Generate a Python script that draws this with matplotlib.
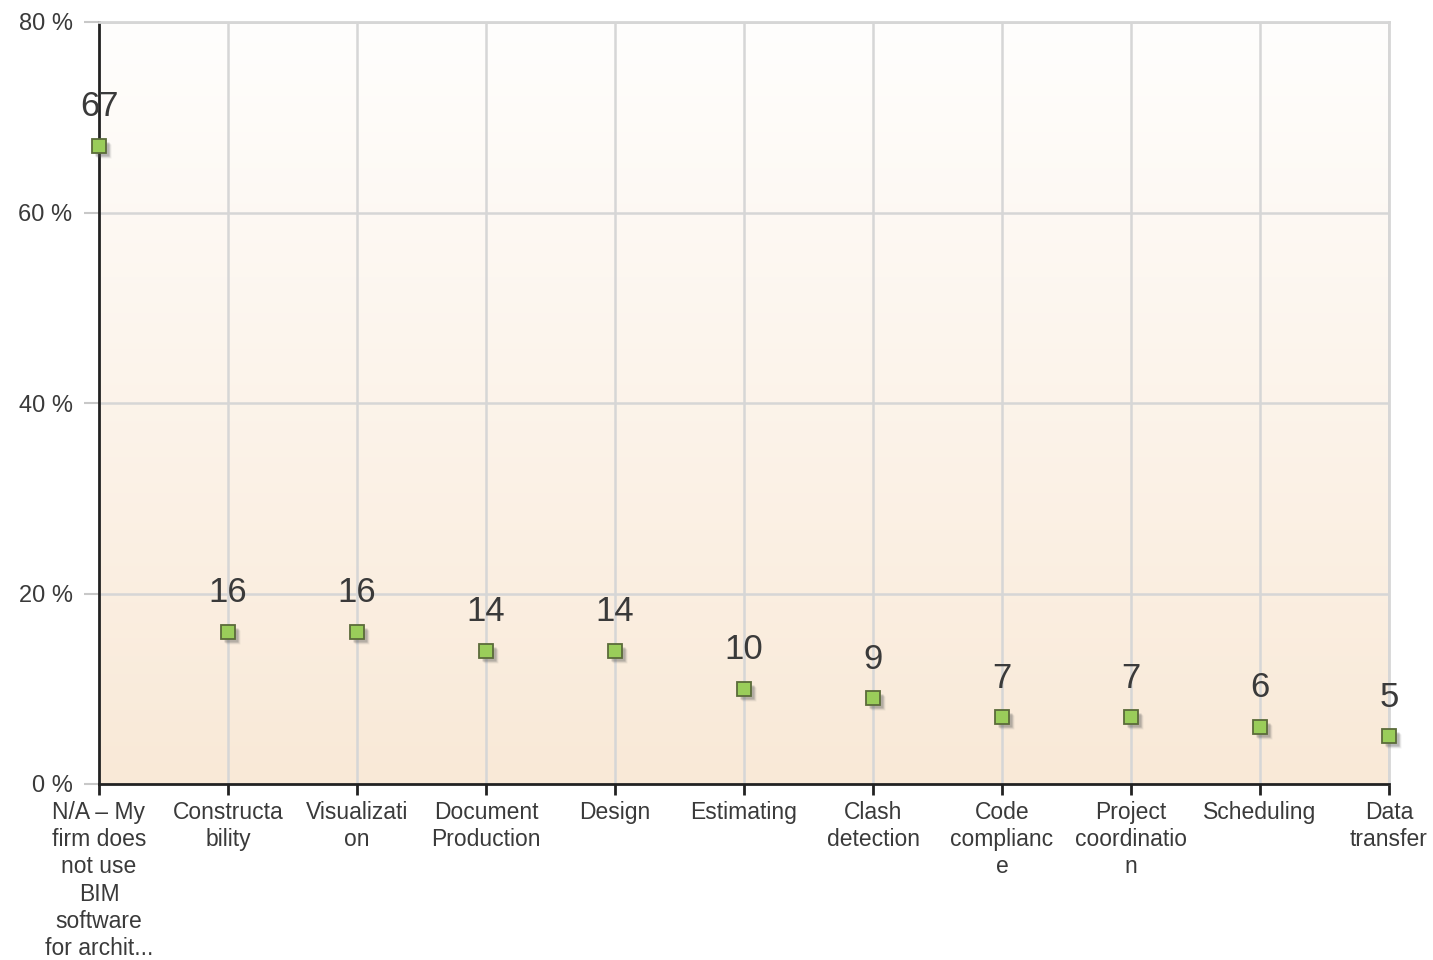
import numpy as np
import matplotlib.pyplot as plt
import matplotlib.transforms as mtransforms
from matplotlib.colors import LinearSegmentedColormap

plt.rcParams['font.family'] = ['Liberation Sans', 'DejaVu Sans']

categories = [
    'N/A \u2013 My\nfirm does\nnot use\nBIM\nsoftware\nfor archit...',
    'Constructa\nbility',
    'Visualizati\non',
    'Document\nProduction',
    'Design',
    'Estimating',
    'Clash\ndetection',
    'Code\ncomplianc\ne',
    'Project\ncoordinatio\nn',
    'Scheduling',
    'Data\ntransfer',
]
values = [67, 16, 16, 14, 14, 10, 9, 7, 7, 6, 5]
y_ticks = [0, 20, 40, 60, 80]
y_tick_labels = ['0 %', '20 %', '40 %', '60 %', '80 %']

text_color = '#3a3a3a'
grid_color = '#d6d6d6'

fig = plt.figure(figsize=(14.33, 9.6), dpi=100)
ax = fig.add_axes([99 / 1433, 1 - 784 / 960, 1290 / 1433, 762 / 960])

x = np.arange(len(categories))
ax.set_xlim(0, len(categories) - 1)
ax.set_ylim(0, 80)

# gradient background, white at top to peach at bottom
cmap = LinearSegmentedColormap.from_list('bg', ['#f9e9d7', '#fffefd'])
grad = np.linspace(0, 1, 256).reshape(-1, 1)
ax.imshow(grad, cmap=cmap, aspect='auto', origin='lower',
          extent=[0, len(categories) - 1, 0, 80], zorder=0)

# grid
for yt in y_ticks[1:]:
    ax.axhline(yt, color=grid_color, lw=1.8, zorder=1)
for xi in x[1:]:
    ax.axvline(xi, color=grid_color, lw=1.8, zorder=1)

# marker shadows
for dx, dy, a in [(3, -3, 0.25), (4, -4, 0.15), (5, -5, 0.08)]:
    tr = mtransforms.offset_copy(ax.transData, fig=fig, x=dx, y=dy, units='dots')
    ax.plot(x, values, ls='none', marker='s', ms=9.5, mfc='#555555', mec='none',
            alpha=a, transform=tr, clip_on=False, zorder=3)

ax.plot(x, values, ls='none', marker='s', ms=9.5, mfc='#9acd5a', mec='#5b6b3a',
        mew=1.3, clip_on=False, zorder=4)

for xi, v in zip(x, values):
    ax.annotate(str(v), (xi, v), xytext=(0, 28), textcoords='offset points',
                ha='center', va='center', fontsize=25, color=text_color,
                annotation_clip=False, zorder=5)

ax.set_yticks(y_ticks)
ax.set_yticklabels(y_tick_labels)
ax.set_xticks(x)
ax.set_xticklabels(categories, linespacing=1.24)

ax.tick_params(axis='y', length=11, width=1.5, color='#c8c8c8', pad=8,
               labelsize=17, labelcolor=text_color)
ax.tick_params(axis='x', length=8, width=2, color='#222222', pad=4,
               labelsize=16.5, labelcolor=text_color)

ax.spines['left'].set_color('#222222')
ax.spines['left'].set_linewidth(2)
ax.spines['bottom'].set_color('#222222')
ax.spines['bottom'].set_linewidth(2)
for s in ['top', 'right']:
    ax.spines[s].set_color(grid_color)
    ax.spines[s].set_linewidth(2)

fig.savefig('out.png', dpi=100, facecolor='white')
